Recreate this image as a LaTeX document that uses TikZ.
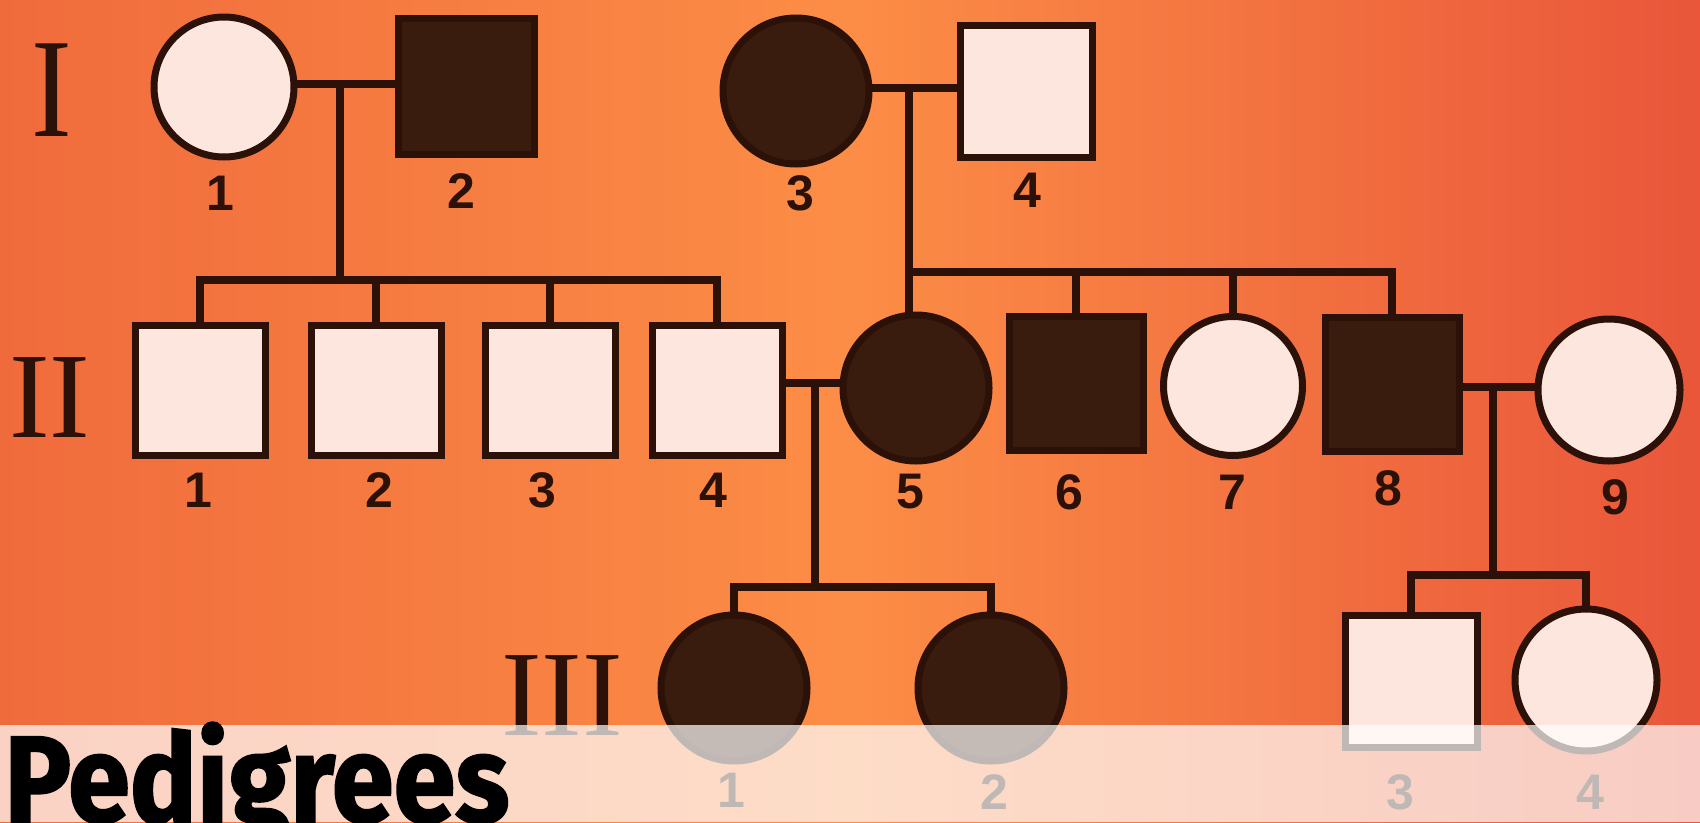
\documentclass[tikz,border=0pt]{standalone}
\usepackage{fontspec}
\newfontfamily\numfont{Liberation Sans}
\newfontfamily\romfont{Liberation Serif}
\newfontfamily\titlefont{Fira Sans}[BoldFeatures={FakeBold=1.6}]
\definecolor{ink}{HTML}{2B1107}
\definecolor{dark}{HTML}{3A1C0F}
\definecolor{light}{HTML}{FDE6DD}
\definecolor{bgl}{HTML}{F06B3C}
\definecolor{bgm}{HTML}{FC8D46}
\definecolor{bgr}{HTML}{E9563A}
\begin{document}
\begin{tikzpicture}[x=1pt,y=-1pt,
  conn/.style={draw=ink,line width=8pt},
  person/.style={draw=ink,line width=7pt,inner sep=0pt,outer sep=0pt},
  female/.style={person,circle,minimum size=#1},
  male/.style={person,rectangle,minimum size=#1},
  aff/.style={fill=dark},
  unaff/.style={fill=light},
  num/.style={font=\numfont\bfseries\fontsize{50}{50}\selectfont,text=ink,inner sep=0pt},
  gen/.style={font=\romfont\fontsize{122}{122}\selectfont,text=ink,inner sep=0pt}
]
\useasboundingbox (0,0) rectangle (1700,822);
\clip (0,0) rectangle (1700,822);
\shade[left color=bgl,right color=bgr,middle color=bgm] (0,0) rectangle (1700,822);

% generation labels
\node[gen] (g1) at (52,90) {\scalebox{1}[1.16]{I}};
\node[gen] (g2) at (50,398) {II};
\node[gen] (g3) at (562,696) {III};

% generation I
\node[female=140,unaff] (i1) at (224,87) {};
\node[male=136,aff] (i2) at (466,86) {};
\node[female=146,aff] (i3) at (796,91) {};
\node[male=132,unaff] (i4) at (1026,91) {};

% generation II
\node[male=130,unaff] (ii1) at (200,390) {};
\node[male=130,unaff] (ii2) at (376,390) {};
\node[male=130,unaff] (ii3) at (550,390) {};
\node[male=130,unaff] (ii4) at (717,390) {};
\node[female=146,aff] (ii5) at (916,388) {};
\node[male=134,aff] (ii6) at (1076,383) {};
\node[female=139,unaff] (ii7) at (1233,386) {};
\node[male=134,aff] (ii8) at (1392,384) {};
\node[female=142,unaff] (ii9) at (1609,390) {};

% generation III
\node[female=146,aff] (iii1) at (734,688) {};
\node[female=146,aff] (iii2) at (991,688) {};
\node[male=132,unaff] (iii3) at (1411,681) {};
\node[female=142,unaff] (iii4) at (1586,680) {};

% junction coordinates
\coordinate (c1) at (340,84);
\coordinate (s1) at (340,280);
\coordinate (c2) at (909,88);
\coordinate (s2) at (909,272);
\coordinate (c3) at (815,383);
\coordinate (s3) at (815,587);
\coordinate (c4) at (1493,387);
\coordinate (s4) at (1493,575);

% family of I-1 x I-2
\draw[conn] (i1.east |- c1) -- (i2.west |- c1);
\draw[conn] (c1) -- (s1);
\draw[conn] (ii1.north) |- (s1) -| (ii4.north);
\draw[conn] (ii2.north |- s1) -- (ii2.north);
\draw[conn] (ii3.north |- s1) -- (ii3.north);

% family of I-3 x I-4
\draw[conn] (i3.east |- c2) -- (i4.west |- c2);
\draw[conn] (c2) -- (c2 |- ii5.north);
\draw[conn] (s2) -| (ii8.north);
\draw[conn] (ii6.north |- s2) -- (ii6.north);
\draw[conn] (ii7.north |- s2) -- (ii7.north);

% family of II-4 x II-5
\draw[conn] (ii4.east |- c3) -- (ii5.west |- c3);
\draw[conn] (c3) -- (s3);
\draw[conn] (iii1.north) |- (s3) -| (iii2.north);

% family of II-8 x II-9
\draw[conn] (ii8.east |- c4) -- (ii9.west |- c4);
\draw[conn] (c4) -- (s4);
\draw[conn] (iii3.north) |- (s4) -| (iii4.north);

% number labels
\node[num] (n-i1) at (220,193) {1};
\node[num] (n-i2) at (461,191) {2};
\node[num] (n-i3) at (800,193) {3};
\node[num] (n-i4) at (1027,190) {4};
\node[num] (n-ii1) at (198,490) {1};
\node[num] (n-ii2) at (379,490) {2};
\node[num] (n-ii3) at (542,490) {3};
\node[num] (n-ii4) at (713,490) {4};
\node[num] (n-ii5) at (910,492) {5};
\node[num] (n-ii6) at (1069,492) {6};
\node[num] (n-ii7) at (1232,492) {7};
\node[num] (n-ii8) at (1388,488) {8};
\node[num] (n-ii9) at (1615,497) {9};
\node[num] (n-iii1) at (731,790) {1};
\node[num] (n-iii2) at (994,792) {2};
\node[num] (n-iii3) at (1400,792) {3};
\node[num] (n-iii4) at (1590,792) {4};

% light band
\fill[white,opacity=0.70] (0,725) rectangle (1700,822);

% title
\node[anchor=base west,inner sep=0pt,text=black,font=\titlefont\bfseries\fontsize{123}{123}\selectfont] (title) at (4,822) {\scalebox{0.91}[1]{Pedigrees}};
\end{tikzpicture}
\end{document}
